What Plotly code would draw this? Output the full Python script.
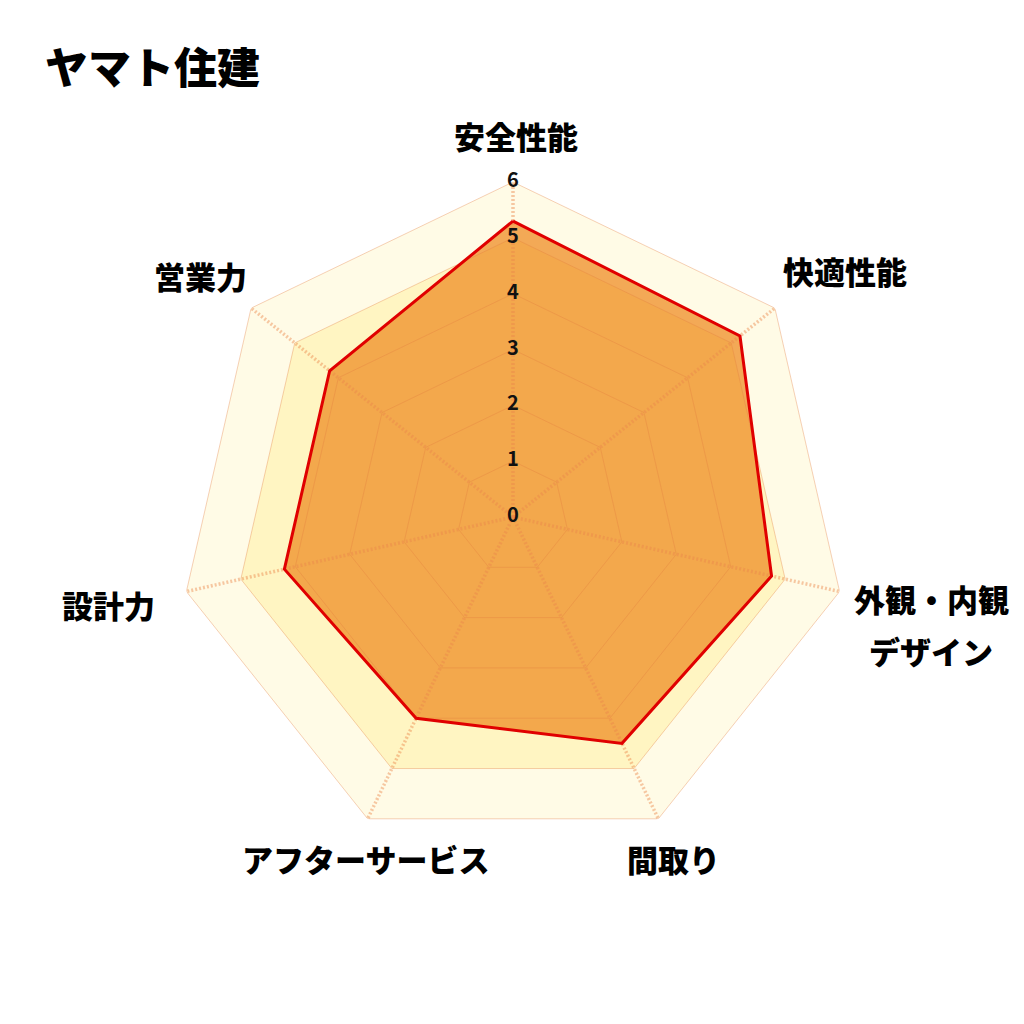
import plotly.graph_objects as go

# company / axes / scores
company = "ヤマト住建"
categories = ["安全性能", "快適性能", "外観・内観デザイン", "間取り", "アフターサービス", "設計力", "営業力"]
scores = [5.3, 5.2, 4.75, 4.5, 4.0, 4.2, 4.2]
tick_values = [0, 1, 2, 3, 4, 5, 6]

FONT = "Noto Sans CJK JP"
W = H = 1024
OFF = 8  # page body margin


def px(x):
    return (x - OFF) / W


def py(y):
    return 1 - (y - OFF) / H


fig = go.Figure()
closed = categories + [categories[0]]

# background bands (outer 5-6 band, inner band up to 5)
fig.add_trace(go.Scatterpolar(
    r=[tick_values[-1]] * len(closed), theta=closed, mode="lines",
    fill="toself", fillcolor="#fffbe6", line=dict(width=0), hoverinfo="skip",
))
fig.add_trace(go.Scatterpolar(
    r=[tick_values[-2]] * len(closed), theta=closed, mode="lines",
    fill="toself", fillcolor="#fff5c2", line=dict(width=0), hoverinfo="skip",
))

# score polygon fill
fig.add_trace(go.Scatterpolar(
    r=scores + [scores[0]], theta=closed, mode="lines",
    fill="toself", fillcolor="rgba(239,140,35,0.74)",
    line=dict(width=0), hoverinfo="skip",
))

# ring grid lines
for v in tick_values[1:]:
    fig.add_trace(go.Scatterpolar(
        r=[v] * len(closed), theta=closed, mode="lines",
        line=dict(color="rgba(228,125,65,0.45)", width=0.8), hoverinfo="skip",
    ))

# dotted spokes
for c in categories:
    fig.add_trace(go.Scatterpolar(
        r=[tick_values[0], tick_values[-1]], theta=[c, c], mode="lines",
        line=dict(color="rgba(235,135,75,0.45)", width=3.5, dash="2px,2px"),
        hoverinfo="skip",
    ))

# score outline
fig.add_trace(go.Scatterpolar(
    r=scores + [scores[0]], theta=closed, mode="lines",
    line=dict(color="#e00000", width=3), hoverinfo="skip",
))

# radial tick numbers on the first spoke
fig.add_trace(go.Scatterpolar(
    r=tick_values, theta=[categories[0]] * len(tick_values), mode="text",
    text=[str(v) for v in tick_values], textposition="middle center",
    textfont=dict(family=FONT, size=20, color="#111111", weight="bold"),
    cliponaxis=False, hoverinfo="skip",
))

cx, cy, R = 513, 517, 335

fig.update_layout(
    width=W, height=H,
    margin=dict(l=0, r=0, t=0, b=0),
    paper_bgcolor="white",
    showlegend=False,
    font=dict(family=FONT),
    polar=dict(
        domain=dict(x=[px(cx - R), px(cx + R)], y=[py(cy + R), py(cy - R)]),
        bgcolor="rgba(0,0,0,0)",
        radialaxis=dict(
            range=[0, 6], showticklabels=False, ticks="",
            showline=False, showgrid=False,
        ),
        angularaxis=dict(
            direction="clockwise", rotation=90, showticklabels=False, ticks="",
            showline=False, showgrid=False,
        ),
    ),
)

# title
fig.add_annotation(
    text=company, xref="paper", yref="paper", x=px(43), y=py(65),
    xanchor="left", yanchor="middle", showarrow=False,
    font=dict(family=FONT, size=43, color="#000000", weight=900),
)

# category labels placed around the chart
label_pos = [
    ("安全性能", 516, 135),
    ("快適性能", 845, 270),
    ("外観・内観", 931, 598),
    ("デザイン", 931, 650),
    ("間取り", 673, 858),
    ("アフターサービス", 365, 858),
    ("設計力", 108, 604),
    ("営業力", 200, 275),
]
for txt, lx, ly in label_pos:
    fig.add_annotation(
        text=txt, xref="paper", yref="paper", x=px(lx), y=py(ly),
        xanchor="center", yanchor="middle", showarrow=False,
        font=dict(family=FONT, size=31, color="#000000", weight=900),
    )

fig.write_html("out.html")
